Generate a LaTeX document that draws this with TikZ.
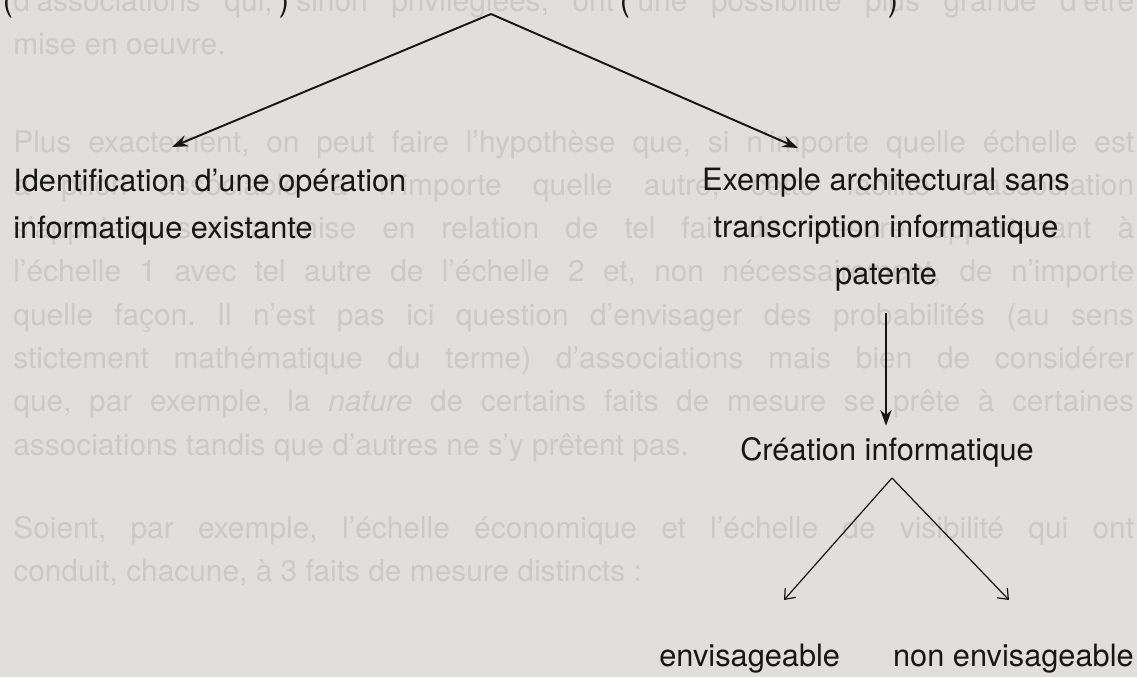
\documentclass[tikz,border=0pt]{standalone}
\usepackage{fontspec}
\setmainfont{TeX Gyre Heros}
\usepackage{tikz}
\usetikzlibrary{arrows,arrows.meta}
\usetikzlibrary{positioning}

\definecolor{paper}{RGB}{225,223,219}
\definecolor{ghost}{RGB}{204,202,198}
\definecolor{ink}{RGB}{22,22,22}

\tikzset{
	lbl/.style={inner sep=0pt, text=ink, font=\fontsize{17.5}{26.7}\selectfont},
	behind/.style={inner sep=0pt, text=ghost, text width=22.42cm, align=justify,
		font=\fontsize{17}{24.64}\selectfont\frenchspacing},
	branch/.style={draw=ink, line width=1.1pt, -{Stealth[length=9pt,width=6.5pt]}},
	fork/.style={draw=ink, line width=0.7pt, -{Straight Barb[length=5pt,width=8pt]}},
}

\begin{document}
\begin{tikzpicture}[x=0.02cm, y=-0.02cm]
	\fill[paper] (0,0) rectangle (1137,677);
	\useasboundingbox (0,0) rectangle (1137,677);

	% texte de la page, en fond
	\node[behind, anchor=base west] (page) at (13,11) {d'associations qui, sinon privilégiées, ont une possibilité plus grande d'être\linebreak
		mise en oeuvre.\par\vspace{31pt}
		Plus exactement, on peut faire l'hypothèse que, si n'importe quelle échelle est\linebreak
		a priori associable à n'importe quelle autre, cette facilité d'association\linebreak
		s'appuiera sur la mise en relation de tel fait de mesure appartenant à\linebreak
		l'échelle 1 avec tel autre de l'échelle 2 et, non nécessairement, de n'importe\linebreak
		quelle façon. Il n'est pas ici question d'envisager des probabilités (au sens\linebreak
		stictement mathématique du terme) d'associations mais bien de considérer\linebreak
		que, par exemple, la \textit{nature} de certains faits de mesure se prête à certaines\linebreak
		associations tandis que d'autres ne s'y prêtent pas.\par\vspace{22.6pt}
		Soient, par exemple, l'échelle économique et l'échelle de visibilité qui ont\linebreak
		conduit, chacune, à 3 faits de mesure distincts :};

	\node[lbl, anchor=base] (pa) at (8,11) {(};
	\node[lbl, anchor=base] (pb) at (284,11) {)};
	\node[lbl, anchor=base] (pc) at (625,11) {(};
	\node[lbl, anchor=base] (pd) at (893,11) {)};

	\node[lbl, align=left, anchor=base west] (ident) at (13,238) {Identification d'une opération\\informatique existante};
	\node[lbl, align=center, anchor=base] (exemple) at (886,284) {Exemple architectural sans\\transcription informatique\\patente};
	\node[lbl, anchor=base] (creation) at (887,460) {Création informatique};
	\node[lbl, anchor=base west] (oui) at (659,666) {envisageable};
	\node[lbl, anchor=base east] (non) at (1134,666) {non envisageable};

	\coordinate (apex) at (491,14);
	\coordinate (ia) at (172,147);
	\coordinate (ea) at (798,148);
	\coordinate (split) at (892,478);
	\coordinate (ouia) at (784,600);
	\coordinate (nona) at (1009,600);

	\draw[branch] (apex) -- (ia);
	\draw[branch] (apex) -- (ea);
	\draw[branch, line width=0.9pt, shorten <=0.44cm, shorten >=0.22cm] (exemple.south) -- (exemple.south |- creation.north);
	\draw[fork] (split) -- (ouia);
	\draw[fork] (split) -- (nona);
\end{tikzpicture}
\end{document}
